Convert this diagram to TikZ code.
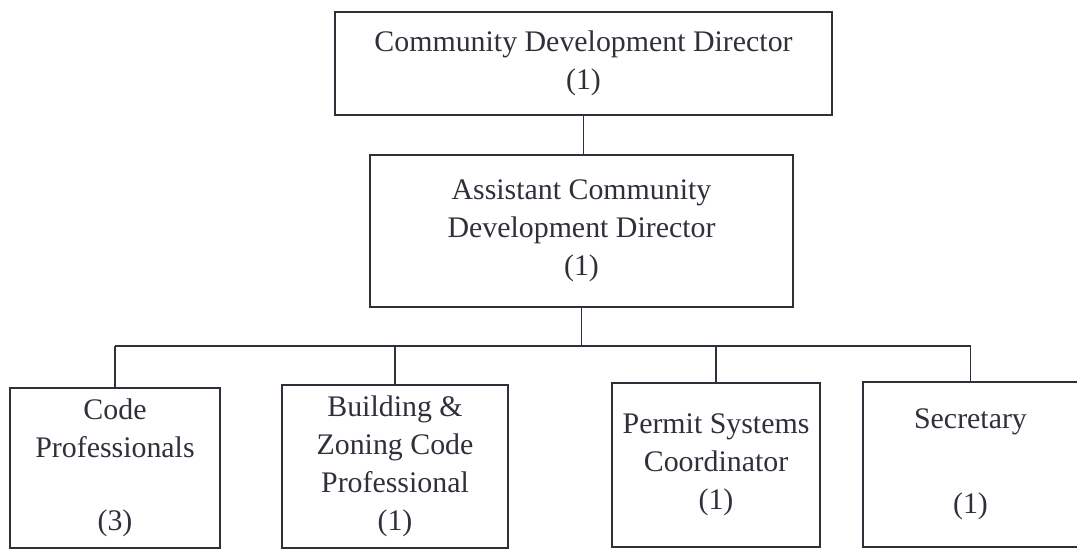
\documentclass[tikz,border=0pt]{standalone}
\usepackage{fontspec}
\setmainfont{Liberation Serif}
\usepackage{tikz}
\definecolor{ink}{RGB}{48,48,58}

\begin{document}
\begin{tikzpicture}[line width=1.1pt, draw=ink,
    post/.style={draw=ink, rectangle, inner sep=0pt, align=center, text=ink,
        font=\fontsize{17}{21.6}\selectfont}]
            \useasboundingbox (0,0) rectangle (21.54,11);
            \node[post, minimum width=9.94cm, minimum height=2.06cm] (director) at (11.67,9.73)
                {Community Development Director\\(1)};
            \node[post, minimum width=8.46cm, minimum height=3.04cm] (assistant) at (11.63,6.38)
                {Assistant Community\\Development Director\\(1)};
            \node[post, minimum width=4.2cm, minimum height=3.2cm] (codepro) at (2.3,1.64)
                {Code\\Professionals\\[20pt](3)};
            \node[post, minimum width=4.52cm, minimum height=3.26cm] (zoning) at (7.9,1.67)
                {Building \&\\Zoning Code\\Professional\\(1)};
            \node[post, minimum width=4.16cm, minimum height=3.28cm] (permit) at (14.32,1.70)
                {Permit Systems\\Coordinator\\(1)};
            \node[post, minimum width=4.3cm, minimum height=3.3cm] (secretary) at (19.41,1.71)
                {Secretary\\[27pt](1)};
            \coordinate (bus) at (11.63,4.08);
            \draw[ink] (director.south) -- (director.south |- assistant.north);
            \draw[ink] (assistant.south) -- (bus);
            \draw[ink] (bus -| codepro.north) -- (bus -| secretary.north);
            \draw[ink] (bus -| codepro.north) -- (codepro.north);
            \draw[ink] (bus -| zoning.north) -- (zoning.north);
            \draw[ink] (bus -| permit.north) -- (permit.north);
            \draw[ink] (bus -| secretary.north) -- (secretary.north);
        \end{tikzpicture}
\end{document}
